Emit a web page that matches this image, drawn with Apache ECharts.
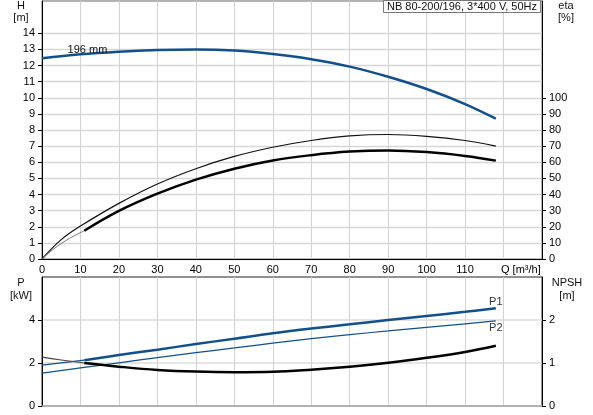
<!DOCTYPE html>
<html><head><meta charset="utf-8">
<script src="https://cdn.jsdelivr.net/npm/echarts@6/dist/echarts.min.js"></script>
<style>html,body{margin:0;padding:0;background:#fff}#c{width:593px;height:415px}</style>
</head><body><div id="c"></div>
<script>
// tick labels
const qTicks = [0,10,20,30,40,50,60,70,80,90,100,110];
const hTicks = [0,1,2,3,4,5,6,7,8,9,10,11,12,13,14];
const etaTicks = [0,10,20,30,40,50,60,70,80,90,100];
const pTicks = [0,2,4];
const npshTicks = [0,1,2];

// head curve (m)
const qH = [0,10,20,30,40,50,60,70,80,90,100,110,118];
const hVals = [12.45,12.7,12.86,12.96,13.0,12.93,12.71,12.39,11.93,11.3,10.54,9.61,8.7];

// efficiency (%)
const qEtaPump = [0,5,10,20,30,40,50,60,70,80,90,100,110,118];
const etaPump = [0,12,20.4,34.5,46.5,56,63.6,69.3,73.5,76.3,77.2,76.1,73.5,70];
const qEtaStart = [0,5,11];
const etaStart = [0,9.6,17.5];
const qEta = [11,20,30,40,50,60,70,80,90,100,110,118];
const etaTotal = [17.5,29.8,40.5,49.2,56,61.1,64.4,66.6,67.3,66.3,63.9,61];

// power (kW)
const qP1Start = [0,11];
const p1Start = [1.9,2.13];
const qP1 = [11,20,30,40,50,60,70,80,90,100,110,118];
const p1 = [2.13,2.37,2.62,2.88,3.13,3.38,3.6,3.8,4.0,4.19,4.38,4.55];
const qP2 = [0,10,20,30,40,50,60,70,80,90,100,110,118];
const p2 = [1.53,1.77,2.01,2.25,2.48,2.7,2.92,3.13,3.32,3.49,3.66,3.82,3.96];

// NPSH (m)
const qNpshStart = [0,5,11];
const npshStart = [1.135,1.07,1.0];
const qNpsh = [11,20,30,40,50,60,70,80,90,100,110,118];
const npsh = [1.0,0.915,0.84,0.8,0.785,0.795,0.845,0.915,1.005,1.12,1.255,1.4];

const FONT = 'Liberation Sans, Arial, sans-serif';
const BLUE = '#12508c';
const pairs = (xs, ys) => xs.map((x, i) => [x, ys[i]]);

const hData = pairs(qH, hVals).map((p, i) => i === 1 ? {
  value: p,
  label: { show: true, formatter: '196 mm', position: 'top', distance: 0, offset: [7, 1],
           color: '#111', fontSize: 11, fontFamily: FONT }
} : p);
const p1Data = pairs(qP1, p1).map((p, i, a) => i === a.length - 1 ? {
  value: p, label: { show: true, formatter: 'P1', position: 'top', distance: 1, color: '#333', fontSize: 11, fontFamily: FONT }
} : p);
const p2Data = pairs(qP2, p2).map((p, i, a) => i === a.length - 1 ? {
  value: p, label: { show: true, formatter: 'P2', position: 'bottom', distance: 2, color: '#333', fontSize: 11, fontFamily: FONT }
} : p);

const lbl = { color: '#000', fontSize: 11, fontFamily: FONT };
const split = { show: true, lineStyle: { color: '#d2d2d2', width: 1 } };

const chart = echarts.init(document.getElementById('c'), null, { renderer: 'canvas' });
chart.setOption({
  animation: false,
  backgroundColor: '#fff',
  title: {
    text: 'NB 80-200/196, 3*400 V, 50Hz', right: 52, top: 0,
    padding: [1, 4, 0, 4], borderWidth: 1, borderColor: '#777', backgroundColor: '#fff',
    textStyle: { fontSize: 11, fontWeight: 'normal', color: '#111', fontFamily: FONT, lineHeight: 12 }
  },
  graphic: [
    { type: 'text', x: 21, y: 0, style: { text: 'H\n[m]', textAlign: 'center', fill: '#111', font: '11px ' + FONT, lineHeight: 12 } },
    { type: 'text', x: 566, y: 0, style: { text: 'eta\n[%]', textAlign: 'center', fill: '#111', font: '11px ' + FONT, lineHeight: 12 } },
    { type: 'text', x: 21, y: 276, style: { text: 'P\n[kW]', textAlign: 'center', fill: '#111', font: '11px ' + FONT, lineHeight: 13 } },
    { type: 'text', x: 567, y: 276, style: { text: 'NPSH\n[m]', textAlign: 'center', fill: '#111', font: '11px ' + FONT, lineHeight: 13 } }
  ],
  grid: [
    { left: 42, right: 51, top: 1, height: 258, show: true, borderColor: '#666', borderWidth: 1 },
    { left: 42, right: 51, top: 277, height: 129, show: true, borderColor: '#222', borderWidth: 1 }
  ],
  xAxis: [
    { type: 'value', gridIndex: 0, min: 0, max: 130, interval: 10,
      axisLine: { show: true, lineStyle: { color: '#000' } }, axisTick: { show: false },
      axisLabel: Object.assign({ customValues: qTicks, margin: 5 }, lbl),
      splitLine: split,
      name: 'Q [m³/h]', nameLocation: 'end', nameGap: -41,
      nameTextStyle: Object.assign({ verticalAlign: 'top', padding: [5, 0, 0, 0] }, lbl) },
    { type: 'value', gridIndex: 1, min: 0, max: 130, interval: 10,
      axisLine: { show: true, lineStyle: { color: '#aaa', width: 1.5 } }, axisTick: { show: false },
      axisLabel: { show: false }, splitLine: split }
  ],
  yAxis: [
    { type: 'value', gridIndex: 0, min: 0, max: 16, interval: 1, position: 'left',
      axisLine: { show: true, lineStyle: { color: '#000' } },
      axisTick: { show: true, length: 4, customValues: hTicks, lineStyle: { color: '#000' } },
      axisLabel: Object.assign({ customValues: hTicks, margin: 7 }, lbl),
      splitLine: { show: true, lineStyle: { color: '#d6d6d6', width: 1.3 } } },
    { type: 'value', gridIndex: 0, min: 0, max: 160, interval: 10, position: 'right',
      axisLine: { show: true, lineStyle: { color: '#000' } },
      axisTick: { show: true, length: 4, customValues: etaTicks, lineStyle: { color: '#000' } },
      axisLabel: Object.assign({ customValues: etaTicks, margin: 7 }, lbl),
      splitLine: { show: false } },
    { type: 'value', gridIndex: 1, min: 0, max: 6, interval: 2, position: 'left',
      axisLine: { show: true, lineStyle: { color: '#000' } },
      axisTick: { show: true, length: 4, customValues: pTicks, lineStyle: { color: '#000' } },
      axisLabel: Object.assign({ customValues: pTicks, margin: 7 }, lbl),
      splitLine: { show: true, lineStyle: { color: '#dcdcdc', width: 1.5 } } },
    { type: 'value', gridIndex: 1, min: 0, max: 3, interval: 1, position: 'right',
      axisLine: { show: true, lineStyle: { color: '#000' } },
      axisTick: { show: true, length: 4, customValues: npshTicks, lineStyle: { color: '#000' } },
      axisLabel: Object.assign({ customValues: npshTicks, margin: 7 }, lbl),
      splitLine: { show: false } }
  ],
  series: [
    { name: 'H', type: 'line', xAxisIndex: 0, yAxisIndex: 0, data: hData, smooth: 0.4,
      showSymbol: true, symbol: 'circle', symbolSize: 0, lineStyle: { color: BLUE, width: 2.5 }, itemStyle: { color: BLUE } },
    { name: 'eta pump', type: 'line', xAxisIndex: 0, yAxisIndex: 1, data: pairs(qEtaPump, etaPump), smooth: 0.4,
      symbol: 'none', lineStyle: { color: '#111', width: 1.2 } },
    { name: 'eta start', type: 'line', xAxisIndex: 0, yAxisIndex: 1, data: pairs(qEtaStart, etaStart), smooth: true,
      symbol: 'none', lineStyle: { color: '#777', width: 1 } },
    { name: 'eta total', type: 'line', xAxisIndex: 0, yAxisIndex: 1, data: pairs(qEta, etaTotal), smooth: 0.4,
      symbol: 'none', lineStyle: { color: '#000', width: 2.5 } },
    { name: 'P1 start', type: 'line', xAxisIndex: 1, yAxisIndex: 2, data: pairs(qP1Start, p1Start),
      symbol: 'none', lineStyle: { color: BLUE, width: 1.2 } },
    { name: 'P1', type: 'line', xAxisIndex: 1, yAxisIndex: 2, data: p1Data, smooth: 0.4,
      showSymbol: true, symbol: 'circle', symbolSize: 0, lineStyle: { color: BLUE, width: 2.5 }, itemStyle: { color: BLUE } },
    { name: 'P2', type: 'line', xAxisIndex: 1, yAxisIndex: 2, data: p2Data, smooth: 0.4,
      showSymbol: true, symbol: 'circle', symbolSize: 0, lineStyle: { color: BLUE, width: 1.2 }, itemStyle: { color: BLUE } },
    { name: 'NPSH start', type: 'line', xAxisIndex: 1, yAxisIndex: 3, data: pairs(qNpshStart, npshStart), smooth: true,
      symbol: 'none', lineStyle: { color: '#444', width: 1.2 } },
    { name: 'NPSH', type: 'line', xAxisIndex: 1, yAxisIndex: 3, data: pairs(qNpsh, npsh), smooth: 0.4,
      symbol: 'none', lineStyle: { color: '#000', width: 2.5 } }
  ]
});
</script></body></html>
